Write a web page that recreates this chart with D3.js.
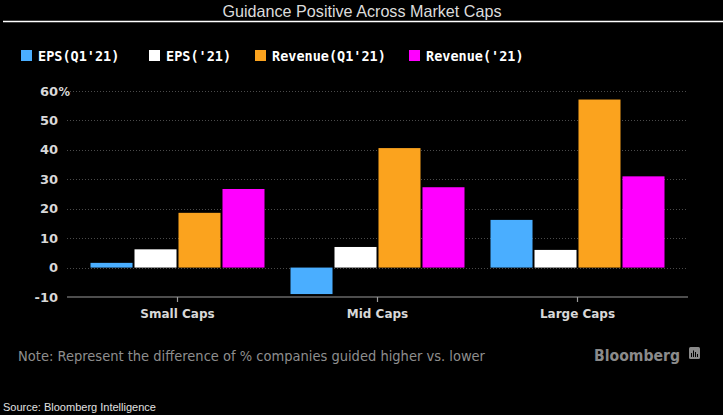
<!DOCTYPE html>
<html>
<head>
<meta charset="utf-8">
<script src="https://cdn.jsdelivr.net/npm/d3@7"></script>
<style>
  html, body { margin: 0; padding: 0; background: #000; }
  svg { display: block; }
</style>
</head>
<body>
<svg id="chart" width="723" height="415"></svg>
<script>
// --- data (small, mid, large) ---
const categories = ["Small Caps", "Mid Caps", "Large Caps"];
const seriesNames = ["EPS(Q1'21)", "EPS('21)", "Revenue(Q1'21)", "Revenue('21)"];
const seriesColors = ["#4aaeff", "#ffffff", "#fba31e", "#ff00ff"];
const epsQ1 = [1.6, -9.0, 16.2];
const epsYear = [6.2, 7.0, 6.0];
const revQ1 = [18.6, 40.6, 57.1];
const revYear = [26.7, 27.3, 31.0];
const yTicks = [-10, 0, 10, 20, 30, 40, 50, 60];

const seriesValues = [epsQ1, epsYear, revQ1, revYear];

const svg = d3.select("#chart");

// background
svg.append("rect").attr("width", 723).attr("height", 415).attr("fill", "#000");

// --- title ---
svg.append("text")
  .attr("x", 362).attr("y", 17)
  .attr("text-anchor", "middle")
  .attr("font-family", "Liberation Sans, Arial, sans-serif")
  .attr("font-size", 16.5)
  .attr("fill", "#dcdcdc")
  .attr("textLength", 279).attr("lengthAdjust", "spacingAndGlyphs")
  .text("Guidance Positive Across Market Caps");

svg.append("line")
  .attr("x1", 3).attr("x2", 723).attr("y1", 21.5).attr("y2", 21.5)
  .attr("stroke", "#fff").attr("stroke-width", 1.5);

// --- legend ---
const legendX = [21, 149, 255, 409];
const legend = svg.append("g");
seriesNames.forEach((name, i) => {
  legend.append("rect")
    .attr("x", legendX[i]).attr("y", 50)
    .attr("width", 11).attr("height", 11)
    .attr("fill", seriesColors[i]);
  legend.append("text")
    .attr("x", legendX[i] + 17).attr("y", 61)
    .attr("font-family", "DejaVu Sans Mono, monospace")
    .attr("font-weight", "bold")
    .attr("font-size", 13.5)
    .attr("fill", "#fff")
    .text(name);
});

// --- scales ---
const plotLeft = 67, plotRight = 688;
const y = d3.scaleLinear().domain([-10, 60]).range([297, 91]);
const x0 = d3.scaleBand().domain(categories).range([77.5, 677.5]);
const x1 = d3.scaleBand().domain(d3.range(seriesNames.length))
  .range([13, x0.bandwidth() - 13]).paddingInner(0.045);

// gridlines (dotted)
svg.append("g")
  .selectAll("line")
  .data(yTicks.filter(t => t > -10))
  .join("line")
  .attr("x1", plotLeft).attr("x2", plotRight)
  .attr("y1", d => Math.round(y(d)) + 0.5).attr("y2", d => Math.round(y(d)) + 0.5)
  .attr("stroke", "#4a4a4a").attr("stroke-width", 1)
  .attr("stroke-dasharray", "1,2");

// y labels
const yLab = svg.append("g")
  .attr("font-family", "DejaVu Sans, Verdana, sans-serif")
  .attr("font-weight", "bold")
  .attr("font-size", 13)
  .attr("fill", "#d8d8d8");
yTicks.forEach(t => {
  yLab.append("text")
    .attr("x", 58).attr("y", y(t) + 4.5)
    .attr("text-anchor", "end")
    .text(t);
});
yLab.append("text")
  .attr("x", 58.5).attr("y", y(60) + 4.5)
  .attr("font-size", 11.5)
  .text("%");

// --- bars ---
const groups = svg.append("g")
  .selectAll("g")
  .data(categories)
  .join("g")
  .attr("transform", d => `translate(${x0(d)},0)`);

groups.selectAll("rect")
  .data((d, ci) => seriesValues.map((vals, si) => ({ si, v: vals[ci] })))
  .join("rect")
  .attr("x", d => x1(d.si))
  .attr("width", x1.bandwidth())
  .attr("y", d => y(Math.max(0, d.v)))
  .attr("height", d => Math.abs(y(d.v) - y(0)))
  .attr("fill", d => seriesColors[d.si]);

// --- x axis ---
const xAxis = d3.axisBottom(x0).tickSize(5).tickSizeOuter(0).tickPadding(7);
const xg = svg.append("g")
  .attr("transform", `translate(0,${y(-10)})`)
  .call(xAxis);
xg.select(".domain").remove();
xg.append("line")
  .attr("x1", plotLeft).attr("x2", plotRight)
  .attr("stroke", "#9a9a9a").attr("stroke-width", 1.2);
xg.selectAll(".tick line").attr("stroke", "#9a9a9a").attr("stroke-width", 1.2);
xg.selectAll(".tick text")
  .attr("font-family", "DejaVu Sans, Verdana, sans-serif")
  .attr("font-weight", "bold")
  .attr("font-size", 12)
  .attr("fill", "#d8d8d8");

// --- note, brand, source ---
svg.append("text")
  .attr("x", 18).attr("y", 361)
  .attr("font-family", "DejaVu Sans Condensed, DejaVu Sans, sans-serif")
  .attr("font-size", 14)
  .attr("fill", "#8e8e8e")
  .attr("textLength", 467).attr("lengthAdjust", "spacingAndGlyphs")
  .text("Note: Represent the difference of % companies guided higher vs. lower");

svg.append("text")
  .attr("x", 594).attr("y", 361)
  .attr("font-family", "DejaVu Sans, Verdana, sans-serif")
  .attr("font-weight", "bold")
  .attr("font-size", 16)
  .attr("fill", "#8a8a8a")
  .attr("textLength", 86).attr("lengthAdjust", "spacingAndGlyphs")
  .text("Bloomberg");

// small logo mark
const logo = svg.append("g").attr("transform", "translate(689,347)");
logo.append("rect").attr("width", 11).attr("height", 12).attr("rx", 1.5).attr("fill", "#8a8a8a");
[[2.5, 6], [4.5, 3.5], [6.5, 5], [8.5, 7]].forEach(([bx, by]) => {
  logo.append("rect").attr("x", bx - 0.5).attr("y", by).attr("width", 1).attr("height", 10 - by)
    .attr("fill", "#000");
});

svg.append("text")
  .attr("x", 3).attr("y", 411)
  .attr("font-family", "Liberation Sans, Arial, sans-serif")
  .attr("font-size", 11)
  .attr("fill", "#e0e0e0")
  .text("Source: Bloomberg Intelligence");
</script>
</body>
</html>
